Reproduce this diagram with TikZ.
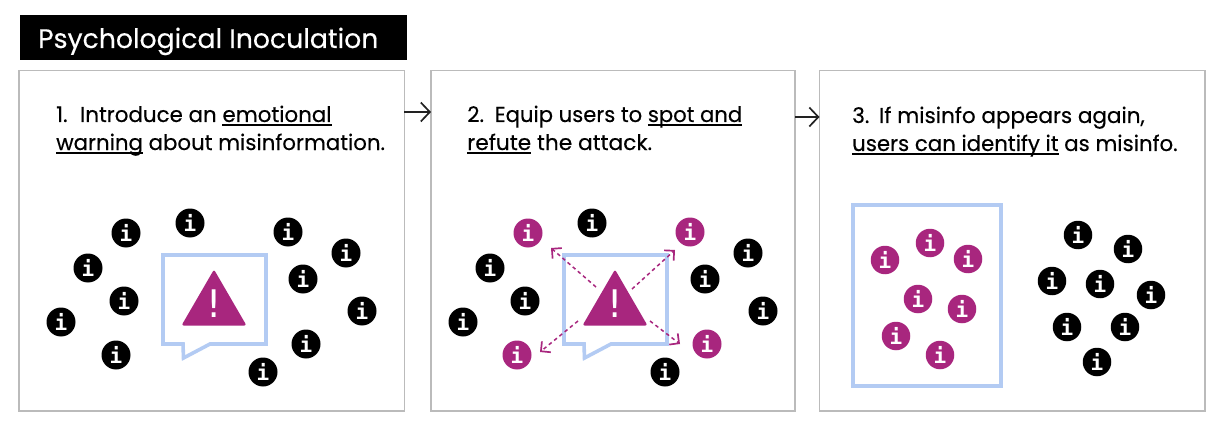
\documentclass[tikz,border=0pt]{standalone}
\usepackage{fontspec}
\usepackage{graphicx}
\setmainfont{Poppins}[FakeBold=0.3]
\newfontfamily\iconfont{DejaVu Sans Mono}[BoldFont={* Bold}]
\newfontfamily\markfont{DejaVu Sans}
\usetikzlibrary{arrows.meta}
\definecolor{mag}{HTML}{A8267E}
\definecolor{bub}{HTML}{B3CBF3}
\definecolor{pan}{HTML}{BBBBBB}
\definecolor{ink}{HTML}{222222}
\newcommand\ulx[1]{\setbox0=\hbox{#1}\rlap{\rule[-3.6pt]{\wd0}{1.5pt}}\box0\relax}
\newcommand\sx[2]{\scalebox{#1}[1]{#2}}
\tikzset{
  x=1pt,y=-1pt,
  panel/.style={draw=pan,line width=1.3pt,fill=white,outer sep=0pt,inner sep=0pt,anchor=north west},
  bubble/.style={draw=bub,line width=3.6pt,line join=miter},
  warn/.style={fill=mag,rounded corners=2.2pt},
  bang/.style={text=white,font=\markfont\fontsize{38}{38}\selectfont,inner sep=0pt},
  info/.style={circle,minimum size=29pt,inner sep=0pt,text=white,font=\iconfont\bfseries\fontsize{21}{21}\selectfont},
  blk/.style={info,fill=black},
  mgt/.style={info,fill=mag},
  line/.style={anchor=base west,inner sep=0pt,text=black,font=\fontsize{21.5}{26}\selectfont},
  flow/.style={draw=ink,line width=1.7pt,-{Straight Barb[length=9pt,width=19pt,line width=1.7pt]}},
  burst/.style={draw=mag,line width=1.5pt,dash pattern=on 3.6pt off 3.2pt,-{Straight Barb[length=7pt,width=14pt,line width=1.7pt]}}
}
\begin{document}
\begin{tikzpicture}
\useasboundingbox (0,0) rectangle (1224,425);
\fill[white] (0,0) rectangle (1224,425);
% title
\node[anchor=north west,fill=black,minimum width=387pt,minimum height=45.5pt,inner sep=0pt,outer sep=0pt] (titlebox) at (20,15) {};
\node[anchor=base west,inner sep=0pt,text=white,font=\fontsize{26.7}{30}\selectfont] (title) at (38,48) {Psychological Inoculation};
% panels
\node[panel,minimum width=385.5pt,minimum height=340.5pt] (p1) at (19,70.5) {};
\node[panel,minimum width=364pt,minimum height=340.5pt] (p2) at (431,70.5) {};
\node[panel,minimum width=385.5pt,minimum height=340.5pt] (p3) at (819.5,70.5) {};
% flow arrows
\coordinate (a1) at (404,112);
\coordinate (a2) at (795,117);
\draw[flow] (a1) -- (p2.west |- a1);
\draw[flow] (a2) -- (p3.west |- a2);
% text
\node[line] (t1a) at (56,122) {1.\hspace{0.58em}\sx{0.995}{Introduce an \ulx{emotional}}};
\node[line] (t1b) at (56,150) {\sx{0.991}{\ulx{warning} about misinformation.}};
\node[line] (t2a) at (467,122) {2.\hspace{0.5em}\sx{0.984}{Equip users to \ulx{spot and}}};
\node[line] (t2b) at (467,150) {\sx{1.01}{\ulx{refute} the attack.}};
\node[line] (t3a) at (852,123) {3.\hspace{0.45em}If misinfo appears again,};
\node[line] (t3b) at (852,151) {\sx{0.99}{\ulx{users can identify it} as misinfo.}};
% panel 1 bubble
\draw[bubble] (163,255) -- (266,255) -- (266,344) -- (210,344) -- (183.5,358) -- (183,344) -- (163,344) -- cycle;
\fill[warn] (214,269.5) -- (246.5,325.5) -- (181.5,325.5) -- cycle;
\node[bang] (b1) at (214,304) {!};
% panel 2 bubble
\draw[bubble] (564,255) -- (667,255) -- (667,344) -- (611,344) -- (584.5,358) -- (584,344) -- (564,344) -- cycle;
\fill[warn] (615,269.5) -- (647.5,325.5) -- (582.5,325.5) -- cycle;
\node[bang] (b2) at (615,304) {!};
% panel 3 frame
\node[bubble,draw,anchor=north west,minimum width=148pt,minimum height=181pt,inner sep=0pt,outer sep=0pt] (frame) at (853,205) {};
% icons
\foreach \px/\py [count=\n] in {126/233,190/223,88/268,124/301,61/322,116/355,288/232,346/253,303/279,362/311,306/344,263/372}
  \node[blk] (u\n) at (\px,\py) {i};
\foreach \px/\py [count=\n] in {592/223,490/268,525/301,463/322,748/253,705/279,763/311,665/372}
  \node[blk] (v\n) at (\px,\py) {i};
\foreach \px/\py [count=\n] in {528/233,690/232,707/344,517/355}
  \node[mgt] (w\n) at (\px,\py) {i};
\foreach \px/\py [count=\n] in {885/260,930/243,968/259,918/299,962/309,896/336,940/355}
  \node[mgt,minimum size=28.5pt] (x\n) at (\px,\py) {i};
\foreach \px/\py [count=\n] in {1078/235,1128/249,1052/281,1100/284,1151/295,1067/327,1125/327,1097/362}
  \node[blk,minimum size=28.5pt] (y\n) at (\px,\py) {i};
% burst arrows
\coordinate (s1) at (596,287); \coordinate (e1) at (551,248);
\coordinate (s2) at (632,289); \coordinate (e2) at (675,250);
\coordinate (s3) at (578,321); \coordinate (e3) at (540,352);
\coordinate (s4) at (650,321); \coordinate (e4) at (680,344);
\draw[burst] (s1) -- (e1);
\draw[burst] (s2) -- (e2);
\draw[burst] (s3) -- (e3);
\draw[burst] (s4) -- (e4);
\end{tikzpicture}
\end{document}
